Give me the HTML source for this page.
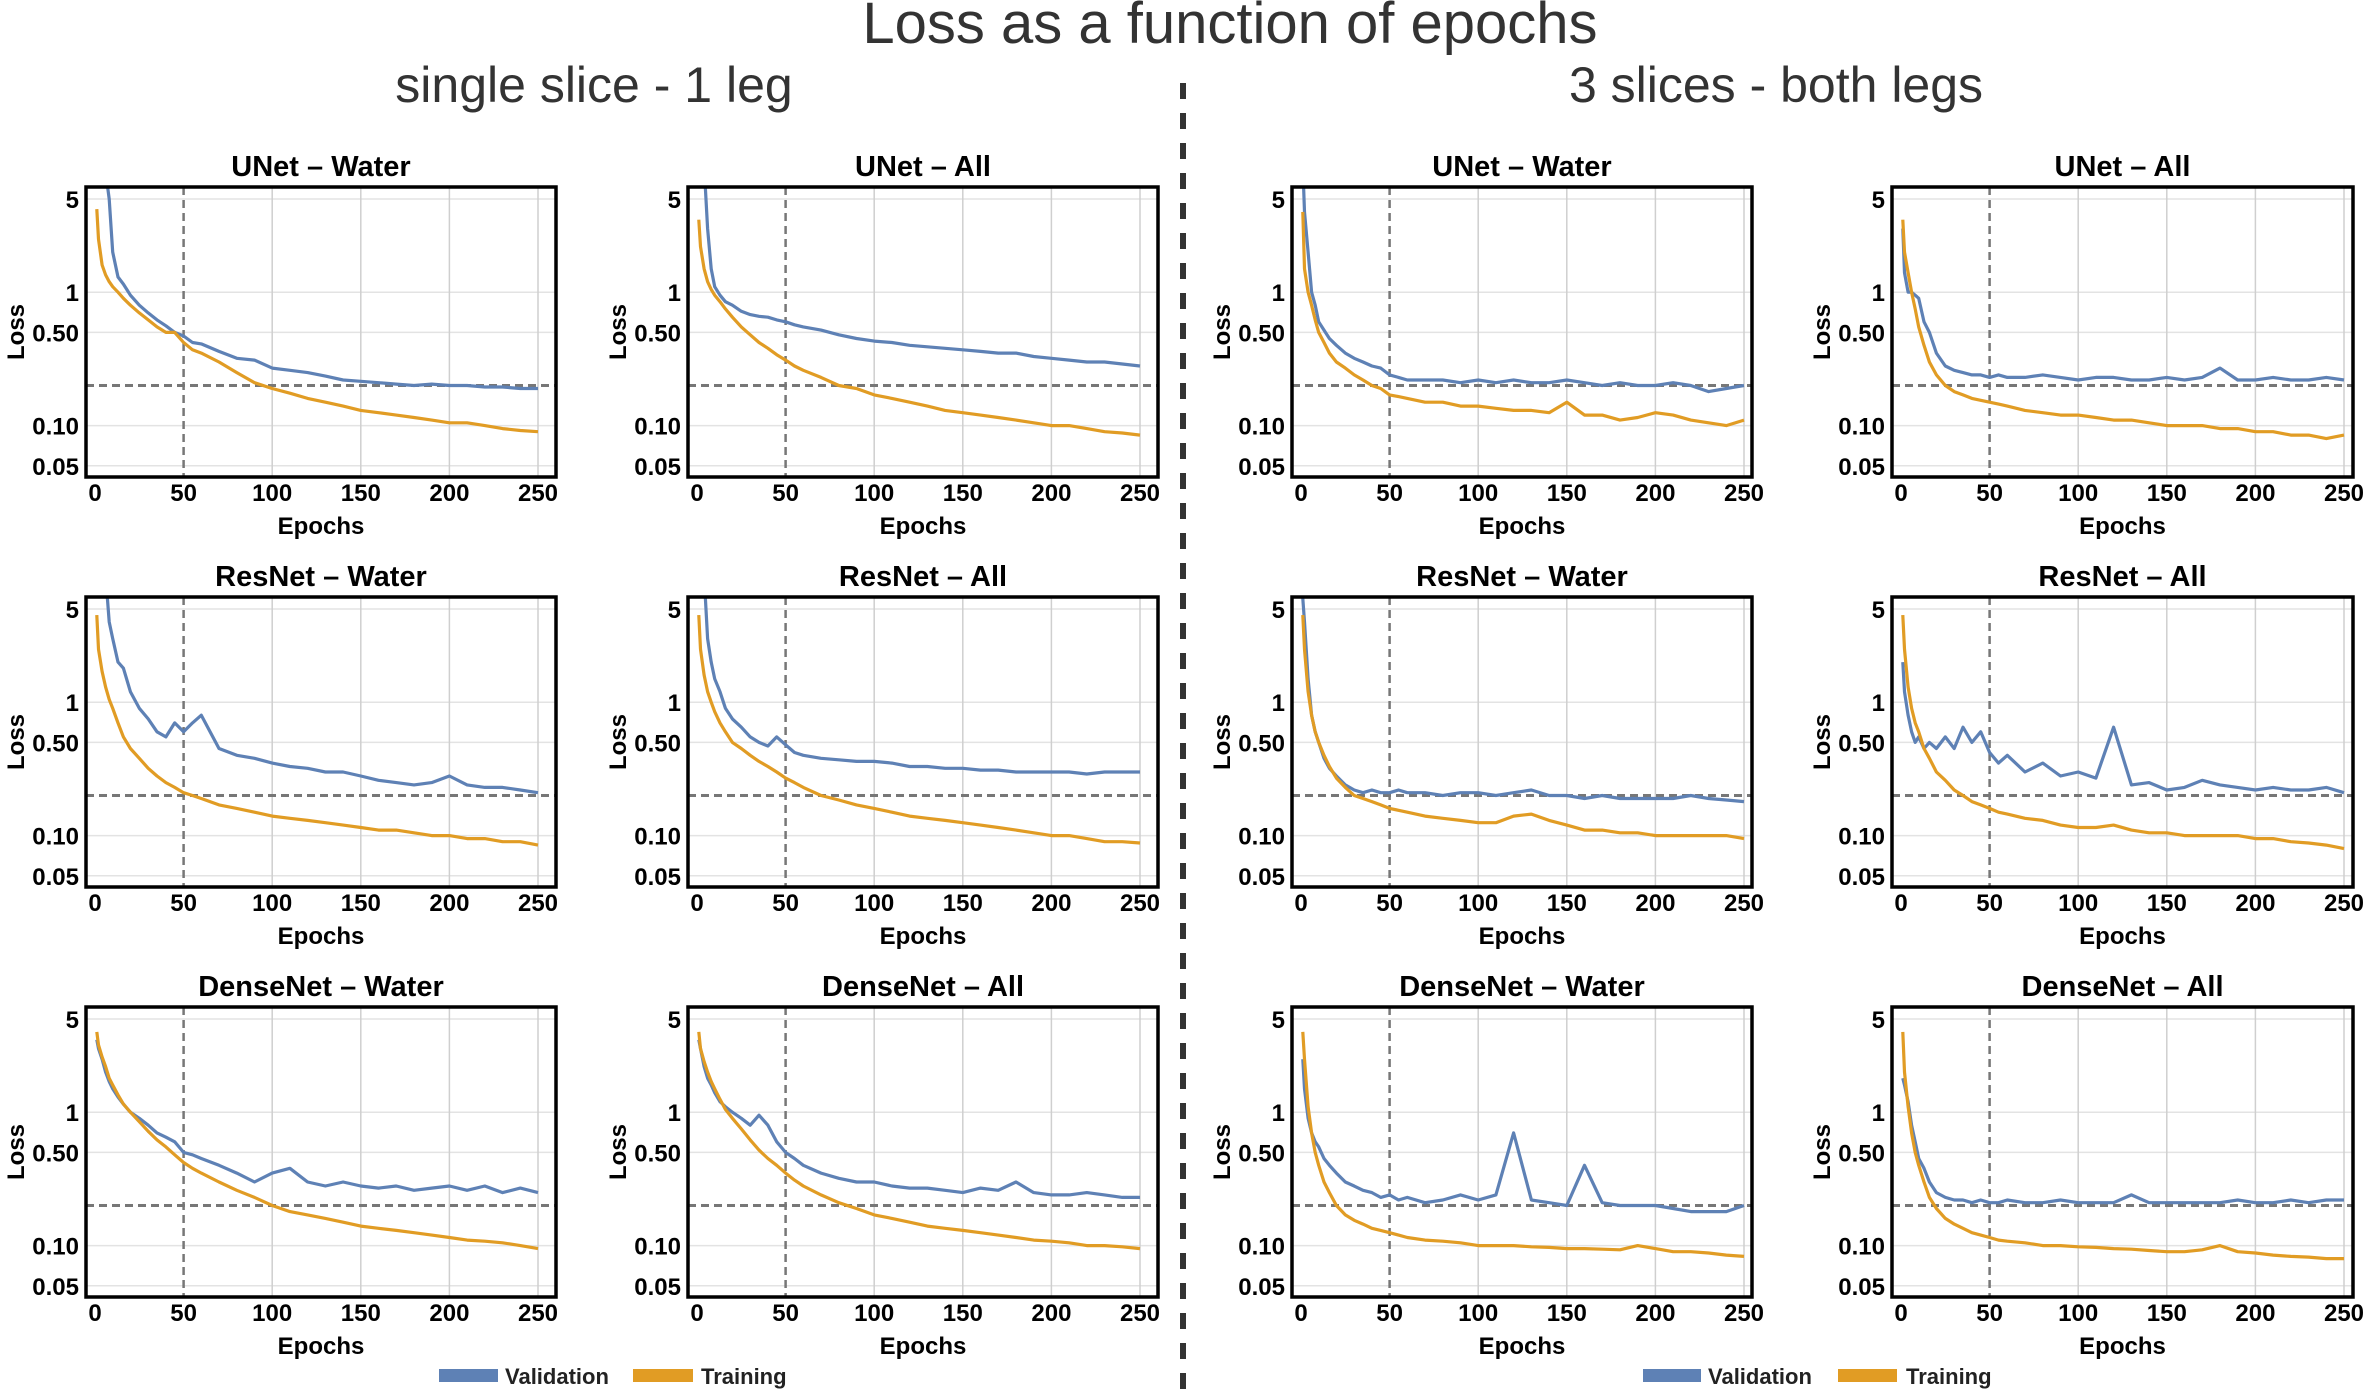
<!DOCTYPE html>
<html><head><meta charset="utf-8"><style>
html,body{margin:0;padding:0;background:#fff;}
svg{display:block;font-family:"Liberation Sans",sans-serif;}
</style></head><body>
<svg id="chart" width="2364" height="1397" viewBox="0 0 2364 1397" xmlns="http://www.w3.org/2000/svg">
<text x="1230" y="43" font-size="58" text-anchor="middle" fill="#333">Loss as a function of epochs</text>
<text x="594" y="102" font-size="50" text-anchor="middle" fill="#333">single slice - 1 leg</text>
<text x="1776" y="102" font-size="50" text-anchor="middle" fill="#333">3 slices - both legs</text>
<line x1="1183" y1="83" x2="1183" y2="1390" stroke="#333" stroke-width="6" stroke-dasharray="16,14"/>
<g>
<rect x="439" y="1369" width="59" height="13" fill="#5e81b5"/>
<text x="505" y="1384" font-size="22" font-weight="bold" fill="#222">Validation</text>
<rect x="633" y="1369" width="60" height="13" fill="#e19c24"/>
<text x="701" y="1384" font-size="22" font-weight="bold" fill="#222">Training</text>
</g>
<g>
<rect x="1643" y="1369" width="58" height="13" fill="#5e81b5"/>
<text x="1708" y="1384" font-size="22" font-weight="bold" fill="#222">Validation</text>
<rect x="1838" y="1369" width="59" height="13" fill="#e19c24"/>
<text x="1906" y="1384" font-size="22" font-weight="bold" fill="#222">Training</text>
</g>
<g id="panels"></g>
</svg>
<script>
const epochs = [1,2,4,6,8,10,13,16,20,25,30,35,40,45,50,55,60,70,80,90,100,110,120,130,140,150,160,170,180,190,200,210,220,230,240,250];
const xTicks = [0,50,100,150,200,250];
const yTicks = [5,1,0.5,0.1,0.05];
const yTickLabels = ["5","1","0.50","0.10","0.05"];
const refLoss = 0.2;
const refEpoch = 50;
const titles = ["UNet – Water","UNet – All","UNet – Water","UNet – All","ResNet – Water","ResNet – All","ResNet – Water","ResNet – All","DenseNet – Water","DenseNet – All","DenseNet – Water","DenseNet – All"];
const val1 = [9,9,9,8,5,2.0,1.3,1.15,0.95,0.8,0.7,0.62,0.56,0.5,0.47,0.42,0.41,0.36,0.32,0.31,0.27,0.26,0.25,0.235,0.22,0.215,0.21,0.205,0.2,0.205,0.2,0.2,0.195,0.195,0.19,0.19];
const trn1 = [4.2,2.5,1.6,1.35,1.2,1.1,1.0,0.9,0.8,0.7,0.62,0.55,0.5,0.5,0.42,0.37,0.35,0.3,0.25,0.21,0.19,0.175,0.16,0.15,0.14,0.13,0.125,0.12,0.115,0.11,0.105,0.105,0.1,0.095,0.092,0.09];
const val2 = [9,9,9,3,1.5,1.1,0.95,0.85,0.8,0.72,0.68,0.66,0.65,0.62,0.6,0.57,0.55,0.52,0.48,0.45,0.43,0.42,0.4,0.39,0.38,0.37,0.36,0.35,0.35,0.33,0.32,0.31,0.3,0.3,0.29,0.28];
const trn2 = [3.5,2.2,1.5,1.2,1.05,0.95,0.85,0.75,0.65,0.55,0.48,0.42,0.38,0.34,0.31,0.28,0.26,0.23,0.2,0.19,0.17,0.16,0.15,0.14,0.13,0.125,0.12,0.115,0.11,0.105,0.1,0.1,0.095,0.09,0.088,0.085];
const val3 = [9,4,2,1,0.8,0.6,0.52,0.45,0.4,0.35,0.32,0.3,0.28,0.27,0.24,0.23,0.22,0.22,0.22,0.21,0.22,0.21,0.22,0.21,0.21,0.22,0.21,0.2,0.21,0.2,0.2,0.21,0.2,0.18,0.19,0.2];
const trn3 = [4,1.5,1.0,0.8,0.62,0.5,0.42,0.35,0.3,0.27,0.24,0.22,0.2,0.19,0.17,0.165,0.16,0.15,0.15,0.14,0.14,0.135,0.13,0.13,0.125,0.15,0.12,0.12,0.11,0.115,0.125,0.12,0.11,0.105,0.1,0.11];
const val4 = [3,1.4,1.0,1.0,0.95,0.9,0.6,0.5,0.35,0.28,0.26,0.25,0.24,0.24,0.23,0.24,0.23,0.23,0.24,0.23,0.22,0.23,0.23,0.22,0.22,0.23,0.22,0.23,0.27,0.22,0.22,0.23,0.22,0.22,0.23,0.22];
const trn4 = [3.5,2.0,1.4,1.0,0.75,0.55,0.4,0.3,0.24,0.2,0.18,0.17,0.16,0.155,0.15,0.145,0.14,0.13,0.125,0.12,0.12,0.115,0.11,0.11,0.105,0.1,0.1,0.1,0.095,0.095,0.09,0.09,0.085,0.085,0.08,0.085];
const val5 = [9,9,9,9,4,3,2,1.8,1.2,0.9,0.75,0.6,0.55,0.7,0.6,0.7,0.8,0.45,0.4,0.38,0.35,0.33,0.32,0.3,0.3,0.28,0.26,0.25,0.24,0.25,0.28,0.24,0.23,0.23,0.22,0.21];
const trn5 = [4.5,2.5,1.7,1.3,1.05,0.9,0.7,0.55,0.45,0.38,0.32,0.28,0.25,0.23,0.21,0.2,0.19,0.17,0.16,0.15,0.14,0.135,0.13,0.125,0.12,0.115,0.11,0.11,0.105,0.1,0.1,0.095,0.095,0.09,0.09,0.085];
const val6 = [9,9,9,3,2,1.5,1.2,0.9,0.75,0.65,0.55,0.5,0.47,0.55,0.48,0.42,0.4,0.38,0.37,0.36,0.36,0.35,0.33,0.33,0.32,0.32,0.31,0.31,0.3,0.3,0.3,0.3,0.29,0.3,0.3,0.3];
const trn6 = [4.5,2.5,1.6,1.2,1.0,0.85,0.7,0.6,0.5,0.45,0.4,0.36,0.33,0.3,0.27,0.25,0.23,0.2,0.185,0.17,0.16,0.15,0.14,0.135,0.13,0.125,0.12,0.115,0.11,0.105,0.1,0.1,0.095,0.09,0.09,0.088];
const val7 = [6,4,1.5,0.8,0.6,0.5,0.38,0.32,0.28,0.24,0.22,0.21,0.22,0.21,0.21,0.22,0.21,0.21,0.2,0.21,0.21,0.2,0.21,0.22,0.2,0.2,0.19,0.2,0.19,0.19,0.19,0.19,0.2,0.19,0.185,0.18];
const trn7 = [4.5,2.5,1.2,0.8,0.6,0.5,0.4,0.33,0.27,0.23,0.2,0.19,0.18,0.17,0.16,0.155,0.15,0.14,0.135,0.13,0.125,0.125,0.14,0.145,0.13,0.12,0.11,0.11,0.105,0.105,0.1,0.1,0.1,0.1,0.1,0.095];
const val8 = [2,1.2,0.8,0.6,0.5,0.55,0.45,0.5,0.45,0.55,0.45,0.65,0.5,0.6,0.42,0.35,0.4,0.3,0.35,0.28,0.3,0.27,0.65,0.24,0.25,0.22,0.23,0.26,0.24,0.23,0.22,0.23,0.22,0.22,0.23,0.21];
const trn8 = [4.5,2.5,1.3,0.9,0.7,0.6,0.45,0.38,0.3,0.26,0.22,0.2,0.18,0.17,0.16,0.15,0.145,0.135,0.13,0.12,0.115,0.115,0.12,0.11,0.105,0.105,0.1,0.1,0.1,0.1,0.095,0.095,0.09,0.088,0.085,0.08];
const val9 = [3.5,3,2.5,2,1.7,1.5,1.3,1.15,1.0,0.9,0.8,0.7,0.65,0.6,0.5,0.48,0.45,0.4,0.35,0.3,0.35,0.38,0.3,0.28,0.3,0.28,0.27,0.28,0.26,0.27,0.28,0.26,0.28,0.25,0.27,0.25];
const trn9 = [4,3.2,2.6,2.2,1.8,1.6,1.35,1.15,1.0,0.85,0.72,0.62,0.55,0.48,0.42,0.38,0.35,0.3,0.26,0.23,0.2,0.18,0.17,0.16,0.15,0.14,0.135,0.13,0.125,0.12,0.115,0.11,0.108,0.105,0.1,0.095];
const val10 = [3.5,3,2.2,1.8,1.6,1.4,1.2,1.1,1.0,0.9,0.8,0.95,0.8,0.6,0.5,0.45,0.4,0.35,0.32,0.3,0.3,0.28,0.27,0.27,0.26,0.25,0.27,0.26,0.3,0.25,0.24,0.24,0.25,0.24,0.23,0.23];
const trn10 = [4,3,2.4,2,1.7,1.5,1.25,1.05,0.9,0.75,0.62,0.52,0.45,0.4,0.35,0.31,0.28,0.24,0.21,0.19,0.17,0.16,0.15,0.14,0.135,0.13,0.125,0.12,0.115,0.11,0.108,0.105,0.1,0.1,0.098,0.095];
const val11 = [2.5,1.5,0.9,0.7,0.6,0.55,0.45,0.4,0.35,0.3,0.28,0.26,0.25,0.23,0.24,0.22,0.23,0.21,0.22,0.24,0.22,0.24,0.7,0.22,0.21,0.2,0.4,0.21,0.2,0.2,0.2,0.19,0.18,0.18,0.18,0.2];
const trn11 = [4,2.5,1.1,0.7,0.5,0.4,0.3,0.25,0.2,0.17,0.155,0.145,0.135,0.13,0.125,0.12,0.115,0.11,0.108,0.105,0.1,0.1,0.1,0.098,0.097,0.095,0.095,0.094,0.093,0.1,0.095,0.09,0.09,0.088,0.085,0.083];
const val12 = [1.8,1.6,1.2,0.8,0.6,0.45,0.38,0.3,0.25,0.23,0.22,0.22,0.21,0.22,0.21,0.21,0.22,0.21,0.21,0.22,0.21,0.21,0.21,0.24,0.21,0.21,0.21,0.21,0.21,0.22,0.21,0.21,0.22,0.21,0.22,0.22];
const trn12 = [4,2,1.1,0.7,0.5,0.4,0.3,0.23,0.19,0.16,0.145,0.135,0.125,0.12,0.115,0.11,0.108,0.105,0.1,0.1,0.098,0.097,0.095,0.094,0.092,0.09,0.09,0.093,0.1,0.09,0.088,0.085,0.083,0.082,0.08,0.08];
const valSeries = [val1,val2,val3,val4,val5,val6,val7,val8,val9,val10,val11,val12];
const trnSeries = [trn1,trn2,trn3,trn4,trn5,trn6,trn7,trn8,trn9,trn10,trn11,trn12];

const NS = "http://www.w3.org/2000/svg";
const colLeft = [86,688,1292,1892];
const colWidth = [470,470,460,461];
const rowTop = [187,597,1007];
const H = 290;
const order = [[0,0],[0,1],[0,2],[0,3],[1,0],[1,1],[1,2],[1,3],[2,0],[2,1],[2,2],[2,3]];
const panelsG = document.getElementById('panels');
function mk(tag, attrs, parent){const e=document.createElementNS(NS,tag);for(const k in attrs)e.setAttribute(k,attrs[k]);parent.appendChild(e);return e;}

for(let p=0;p<12;p++){
  const r=order[p][0], c=order[p][1];
  const L=colLeft[c], T=rowTop[r], W=colWidth[c];
  const xs = e => L + 9 + e*443/250;
  const ys = v => T + 12 + (Math.log10(5)-Math.log10(v))*133.4;
  const g = mk('g',{},panelsG);
  
  
  const cp = mk('clipPath',{id:'cp'+p},g);
  mk('rect',{x:L,y:T,width:W,height:H},cp);
  yTicks.forEach(v=>{const l=mk('line',{x1:L,x2:L+W,y1:ys(v),y2:ys(v),stroke:'#e3e3e3','stroke-width':1.5},g);
    
    });
  xTicks.forEach(t=>{ if(t===0||t===refEpoch) return; const l=mk('line',{x1:xs(t),x2:xs(t),y1:T,y2:T+H,stroke:'#cfcfcf','stroke-width':1.5},g);
    
    });
  const vl=mk('line',{x1:xs(refEpoch),x2:xs(refEpoch),y1:T,y2:T+H,stroke:'#777','stroke-width':2.5,'stroke-dasharray':'8,5'},g);
  
  
  const hl=mk('line',{x1:L,x2:L+W,y1:ys(refLoss),y2:ys(refLoss),stroke:'#777','stroke-width':3,'stroke-dasharray':'8,5'},g);
  
  
  const series=[[valSeries[p],'#5e81b5','validation-line'],[trnSeries[p],'#e19c24','training-line']];
  series.forEach(s=>{
    const d=s[0].map((v,i)=>(i?'L':'M')+xs(epochs[i]).toFixed(1)+','+ys(v).toFixed(1)).join('');
    const path=mk('path',{d:d,fill:'none',stroke:s[1],'stroke-width':3.2,'stroke-linejoin':'round','clip-path':'url(#cp'+p+')'},g);
    
    
  });
  const fr=mk('rect',{x:L,y:T,width:W,height:H,fill:'none',stroke:'#000','stroke-width':3.5},g);
  
  
  yTicks.forEach((v,i)=>{const t=mk('text',{x:L-7,y:ys(v)+9,'font-size':24,'font-weight':'bold','text-anchor':'end',fill:'#000'},g);t.textContent=yTickLabels[i];
    
    });
  xTicks.forEach(v=>{const t=mk('text',{x:xs(v),y:T+314,'font-size':24,'font-weight':'bold','text-anchor':'middle',fill:'#000'},g);t.textContent=String(v);
    
    });
  const xt=mk('text',{x:L+W/2,y:T+347,'font-size':24,'font-weight':'bold','text-anchor':'middle',fill:'#000'},g);xt.textContent='Epochs';
  
  
  const yx=L-62, yy=T+H/2;
  const yt=mk('text',{x:yx,y:yy,'font-size':24,'font-weight':'bold','text-anchor':'middle',fill:'#000',transform:'rotate(-90 '+yx+' '+yy+')'},g);yt.textContent='Loss';
  
  
  const tt=mk('text',{x:L+W/2,y:T-11,'font-size':29,'font-weight':'bold','text-anchor':'middle',fill:'#000'},g);tt.textContent=titles[p];
  
  
}
</script>
</body></html>
